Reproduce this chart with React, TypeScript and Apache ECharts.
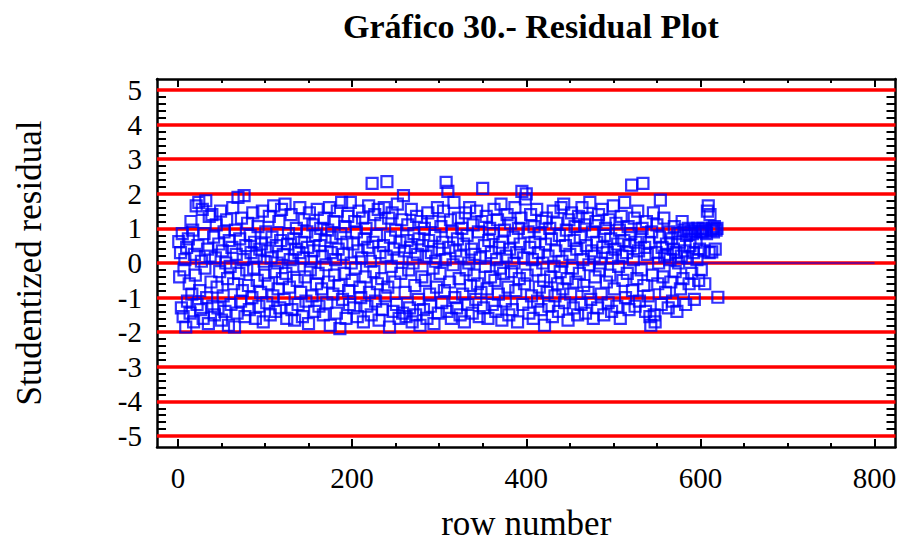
import React, { useEffect, useRef } from "react";
import * as echarts from "echarts";

// Studentized residuals, one per row number (1..620)
const residuals: number[] = [
  0.62, -0.4, 0.3, -1.3, 0.85, -1.55, -0.2, 0.1, -1.85, 0.45, -1.1, 0.7, -0.6, -1.45, 1.2, -0.9, 0.95, -1.7, 0.25, -0.35,
  1.65, -1.2, 0.5, 1.75, -0.8, -1.35, 0.05, 1.55, -1.6, 0.85, -0.15, 1.8, -1.0, 0.4, -1.75, 1.35, 0.2, -0.55, 1.4, -1.25,
  0.75, -1.5, 0.15, 1.1, -0.7, -1.3, 0.55, -0.25, 1.5, -1.65, 0.35, -0.95, 0.9, -1.4, 0.0, 1.25, -0.45, -1.8, 0.65, -0.1,
  -1.2, 0.45, 1.6, -0.6, -1.85, 0.95, 0.25, -1.45, 1.9, -0.3, 0.7, -1.1, 1.3, -0.8, 0.1, 1.95, -1.55, 0.5, -0.2, 1.15,
  -0.65, -1.35, 0.8, 0.3, -1.0, 1.45, -0.15, 0.6, -1.6, 0.2, -0.5, 1.05, -1.25, 0.4, -0.85, 0.55, 1.5, -1.7, 0.05, -0.35,
  0.9, -1.15, 0.35, -0.6, 1.35, -1.5, 0.15, 0.75, -0.95, 1.65, -0.25, -1.4, 0.5, 0.0, -0.75, 1.2, -1.3, 0.65, 1.55, -0.45,
  0.25, -1.05, 1.7, -0.3, -1.6, 0.55, 0.85, -0.7, 0.1, 1.4, -1.35, -0.1, 0.7, -1.65, 0.4, 1.0, -0.5, -1.2, 0.3, 1.6,
  -0.85, 0.6, -1.55, 0.15, 1.25, -0.4, -1.1, 0.9, 0.45, -1.75, 1.45, -0.2, 0.05, -0.95, 1.1, 0.35, -1.4, 0.8, -0.6, 1.55,
  -0.3, -1.25, 0.5, 1.0, -0.75, 0.2, -1.5, 1.3, 0.65, -0.05, -1.15, 0.95, -0.55, 1.6, -1.8, 0.3, 0.75, -0.9, 1.2, -0.35,
  0.1, -1.45, 1.5, 0.4, -0.65, -1.9, 0.85, 1.75, -1.05, 0.25, -0.3, 1.05, -1.6, 0.6, 1.35, -0.8, -1.2, 1.75, 0.0, -0.5,
  0.55, -1.3, 1.2, -0.15, 0.9, -1.55, 0.35, 1.5, -0.7, -1.0, 0.15, 1.3, -1.7, 0.7, -0.4, 1.0, -1.25, 0.45, 1.65, -0.85,
  0.05, -1.5, 2.3, 0.6, -0.25, 1.4, -1.1, 0.8, -0.6, 1.55, -1.65, 0.3, 1.15, -0.45, -1.35, 0.5, 1.6, -0.95, 0.2, 2.35,
  -0.7, 1.3, -1.85, 0.75, -0.1, 1.45, -1.4, 0.4, -0.55, 0.95, -1.2, 1.7, 0.15, -1.6, 0.6, -0.3, 1.25, -1.45, 1.95, 0.35,
  -0.85, -1.55, 0.65, 1.1, -0.2, -1.3, 0.45, 1.55, -1.7, 0.0, 0.85, -0.65, -1.5, 1.35, 0.25, -1.05, 0.7, -1.8, 1.2, -0.4,
  0.5, -1.35, 1.0, -0.5, 0.2, -1.6, 1.45, 0.65, -0.9, -1.25, 0.3, 1.2, -0.15, -1.75, 0.8, 0.05, -0.7, 1.6, -1.45, 0.4,
  -0.3, 1.05, -1.15, 0.6, 1.5, -0.8, 0.1, 2.33, -1.4, 2.07, 0.45, -0.55, 1.25, -1.6, 0.9, -0.05, 1.75, -1.0, 0.35, -1.3,
  0.7, 1.3, -0.45, -1.5, 0.2, 1.0, -0.9, 0.55, -1.7, 1.45, -0.2, 0.8, -1.2, 0.0, 1.6, -0.65, 0.4, -1.45, 1.1, -0.35,
  0.25, -1.05, 1.5, -0.6, 0.9, -1.55, 0.15, -0.85, 1.2, 2.16, -1.3, 0.5, -0.1, 1.35, -0.75, -1.6, 0.65, 1.0, -0.4, 0.3,
  -1.2, 0.85, 1.55, -0.5, -1.4, 0.1, 1.25, -0.9, 0.45, -0.15, 1.7, -1.65, 0.6, -0.3, 0.95, -1.1, 0.2, 1.4, -0.7, -1.5,
  0.4, 1.15, -0.25, -1.35, 0.75, 0.0, 1.6, -0.8, 0.3, -1.7, 1.0, -0.45, 0.55, 1.3, 2.07, -1.2, 0.15, -0.6, 1.85, 2.0,
  -0.35, 0.9, -1.45, 0.45, 1.4, -0.95, 0.1, -1.6, 1.05, 0.6, -0.2, 1.55, -1.1, 0.3, -0.7, 0.85, -1.35, 1.2, 0.0, -0.5,
  -1.8, 0.55, 1.3, -0.85, 0.2, -1.25, 1.0, -0.4, 0.7, -1.55, 1.5, -0.1, -0.95, 0.35, 1.15, -0.6, -1.4, 0.8, -0.25, 1.6,
  0.05, -0.75, 1.7, -1.15, 0.5, 0.95, -0.45, -1.65, 1.25, 0.25, -0.9, 1.45, -0.15, -1.3, 0.65, 1.05, -0.55, 0.4, -1.5, 1.35,
  -0.3, 0.75, -1.2, 1.6, 0.1, -0.65, 1.1, -1.45, 0.5, 1.3, -0.85, -0.05, 1.75, -1.05, 0.35, 0.9, -1.6, 0.2, -0.4, 1.2,
  0.6, -1.3, 1.4, -0.2, 0.0, -0.9, 1.55, 0.45, -1.5, 0.8, 1.0, -0.55, 0.3, -1.15, 1.25, -0.35, 0.7, -1.4, 0.15, 1.65,
  -0.75, 0.4, 1.15, -1.25, 0.55, -0.1, 0.95, -1.6, 1.35, 0.2, -0.5, 0.65, 1.75, -1.0, 0.3, -0.3, 1.05, -1.35, 0.5, 0.85,
  2.25, -0.8, 0.1, 1.3, -1.25, 0.6, -0.45, 1.5, 0.35, -1.1, 0.75, -0.2, 1.0, 2.3, -0.65, 0.45, -1.4, 1.2, 0.25, -0.95,
  0.6, -1.55, -1.8, 0.9, -0.35, 1.45, -1.5, -1.7, 0.3, 1.1, -0.6, 0.0, 0.75, 1.82, -1.2, 0.45, -0.4, 1.3, 0.2, -0.85,
  0.55, 0.25, -1.3, 0.9, 0.1, -0.55, 0.7, -1.1, 0.4, 1.05, -0.25, 0.3, -1.4, 0.85, 0.0, 0.6, -0.75, 0.2, 1.2, -0.45,
  0.95, 0.35, -1.2, 0.8, 0.15, 1.0, -0.6, 0.5, 0.9, -0.3, 0.85, 0.3, -1.05, 0.95, 0.6, 0.1, 1.0, -0.5, 0.4, 0.9,
  -0.2, 0.9, 1.0, 0.35, -0.6, 0.95, 0.85, 1.5, 1.65, 0.3, 1.4, 0.95, 0.32, 1.0, 0.9, 1.05, 0.4, 0.95, 1.0, -0.99,
];

// Row numbers (x values)
const rowNumbers: number[] = residuals.map((_, i) => i + 1);

// Fitted zero line
const zeroLine: [number, number][] = [
  [0, 0],
  [800, 0],
];

// Horizontal reference levels (red lines)
const referenceLevels: number[] = [-5, -4, -3, -2, -1, 0, 1, 2, 3, 4, 5];

// Tick labels
const xTickLabels: number[] = [0, 200, 400, 600, 800];
const xMinorTicks: number[] = [50, 100, 150, 250, 300, 350, 450, 500, 550, 650, 700, 750];
const yTickLabels: number[] = [-5, -4, -3, -2, -1, 0, 1, 2, 3, 4, 5];

const chartTitle = "Gráfico 30.- Residual Plot";
const xAxisTitle = "row number";
const yAxisTitle = "Studentized residual";

const FONT = '"Liberation Serif", "Times New Roman", serif';

export default function App() {
  const ref = useRef<HTMLDivElement>(null);

  useEffect(() => {
    if (!ref.current) return;
    const chart = echarts.init(ref.current, undefined, { renderer: "svg" });

    const yMinor: number[] = [];
    for (let i = -25; i <= 25; i++) {
      if (i % 5 !== 0) yMinor.push(Math.round(i * 20) / 100);
    }

    const X_MIN = -24;
    const X_MAX = 824;
    const Y_MIN = -5.32;
    const Y_MAX = 5.32;

    const axisLine = { show: true, onZero: false, lineStyle: { color: "#000", width: 2.5 } };
    const noLine = { show: false, onZero: false };

    const xBase = {
      type: "value" as const,
      min: X_MIN,
      max: X_MAX,
      splitLine: { show: false },
    };
    const yBase = {
      type: "value" as const,
      min: Y_MIN,
      max: Y_MAX,
      splitLine: { show: false },
    };

    const option: any = {
      animation: false,
      backgroundColor: "#fff",
      grid: { left: 157, right: 6.5, top: 79, bottom: 92, containLabel: false },
      graphic: [
        {
          type: "text",
          x: 531,
          y: 26,
          style: {
            text: chartTitle,
            fontFamily: FONT,
            fontSize: 34,
            fontWeight: "bold",
            fill: "#000",
            align: "center",
            verticalAlign: "middle",
          },
        },
      ],
      xAxis: [
        {
          ...xBase,
          position: "bottom",
          axisLine,
          axisTick: {
            show: true,
            inside: true,
            length: 8,
            customValues: xTickLabels,
            lineStyle: { color: "#000", width: 2 },
          },
          axisLabel: {
            show: true,
            customValues: xTickLabels,
            margin: 16,
            fontFamily: FONT,
            fontSize: 29,
            color: "#000",
          },
          name: xAxisTitle,
          nameLocation: "middle",
          nameGap: 59,
          nameTextStyle: { fontFamily: FONT, fontSize: 35, color: "#000" },
        },
        {
          ...xBase,
          position: "bottom",
          axisLine: noLine,
          axisTick: {
            show: true,
            inside: true,
            length: 4,
            customValues: xMinorTicks,
            lineStyle: { color: "#000", width: 2 },
          },
          axisLabel: { show: false },
        },
        {
          ...xBase,
          position: "top",
          axisLine,
          axisTick: {
            show: true,
            inside: true,
            length: 8,
            customValues: xTickLabels,
            lineStyle: { color: "#000", width: 2 },
          },
          axisLabel: { show: false },
        },
        {
          ...xBase,
          position: "top",
          axisLine: noLine,
          axisTick: {
            show: true,
            inside: true,
            length: 4,
            customValues: xMinorTicks,
            lineStyle: { color: "#000", width: 2 },
          },
          axisLabel: { show: false },
        },
      ],
      yAxis: [
        {
          ...yBase,
          position: "left",
          axisLine,
          axisTick: {
            show: true,
            inside: true,
            length: 16,
            customValues: yTickLabels,
            lineStyle: { color: "#000", width: 2 },
          },
          axisLabel: {
            show: true,
            customValues: yTickLabels,
            margin: 15,
            fontFamily: FONT,
            fontSize: 29,
            color: "#000",
          },
          name: yAxisTitle,
          nameLocation: "middle",
          nameGap: 110,
          nameRotate: 90,
          nameTextStyle: { fontFamily: FONT, fontSize: 35, color: "#000" },
        },
        {
          ...yBase,
          position: "left",
          axisLine: noLine,
          axisTick: {
            show: true,
            inside: true,
            length: 9,
            customValues: yMinor,
            lineStyle: { color: "#000", width: 2 },
          },
          axisLabel: { show: false },
        },
        {
          ...yBase,
          position: "right",
          axisLine,
          axisTick: {
            show: true,
            inside: true,
            length: 16,
            customValues: yTickLabels,
            lineStyle: { color: "#000", width: 2 },
          },
          axisLabel: { show: false },
        },
        {
          ...yBase,
          position: "right",
          axisLine: noLine,
          axisTick: {
            show: true,
            inside: true,
            length: 9,
            customValues: yMinor,
            lineStyle: { color: "#000", width: 2 },
          },
          axisLabel: { show: false },
        },
      ],
      series: [
        {
          type: "line",
          xAxisIndex: 0,
          yAxisIndex: 0,
          data: [],
          silent: true,
          z: 1,
          markLine: {
            silent: true,
            symbol: ["none", "none"],
            label: { show: false },
            animation: false,
            lineStyle: { color: "#ff0000", width: 3.5, type: "solid" },
            emphasis: { disabled: true },
            data: referenceLevels.map((v) => ({ yAxis: v })),
          },
        },
        {
          type: "line",
          xAxisIndex: 0,
          yAxisIndex: 0,
          data: zeroLine,
          symbol: "none",
          silent: true,
          lineStyle: { color: "#0000ff", width: 1.2 },
          z: 8,
        },
        {
          type: "scatter",
          xAxisIndex: 0,
          yAxisIndex: 0,
          data: residuals.map((v, i) => [rowNumbers[i], v]),
          symbol: "rect",
          symbolSize: 11,
          itemStyle: {
            color: "rgba(0,0,0,0)",
            borderColor: "#0000ff",
            borderWidth: 2.2,
          },
          emphasis: { disabled: true },
          z: 10,
        },
      ],
    };

    chart.setOption(option);
    return () => chart.dispose();
  }, []);

  return (
    <div
      ref={ref}
      style={{ position: "fixed", left: 0, top: 0, width: 902, height: 546, background: "#fff" }}
    />
  );
}
